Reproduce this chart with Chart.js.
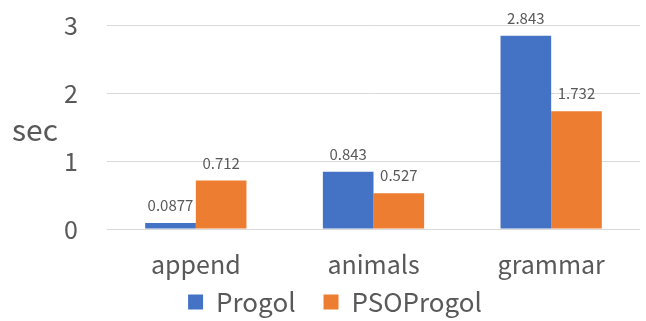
<!DOCTYPE html>
<html><head><meta charset="utf-8">
<script src="https://cdn.jsdelivr.net/npm/chart.js@4/dist/chart.umd.min.js"></script>
<style>html,body{margin:0;padding:0;background:#fff}#wrap{width:646px;height:321px}</style>
</head><body><div id="wrap"><canvas id="c" width="646" height="321"></canvas></div>
<script>
const categories = ['append', 'animals', 'grammar'];
const progol = [0.0877, 0.843, 2.843];
const psoProgol = [0.712, 0.527, 1.732];
const progolLabels = ['0.0877', '0.843', '2.843'];
const psoLabels = ['0.712', '0.527', '1.732'];
const yTicks = [0, 1, 2, 3];

const FONT = '"Noto Sans CJK JP", "Noto Sans", sans-serif';
const GRAY = '#595959';

const labelPlugin = {
  id: 'valueLabels',
  afterDatasetsDraw(chart) {
    const ctx = chart.ctx;
    ctx.save();
    ctx.font = '15px ' + FONT;
    ctx.fillStyle = GRAY;
    ctx.textAlign = 'center';
    ctx.textBaseline = 'bottom';
    chart.data.datasets.forEach((ds, di) => {
      const meta = chart.getDatasetMeta(di);
      meta.data.forEach((el, i) => {
        ctx.fillText(ds.valueLabels[i], el.x, el.y - 10);
      });
    });
    ctx.restore();
  },
  afterDraw(chart) {
    const ctx = chart.ctx;
    ctx.save();
    ctx.font = '30px ' + FONT;
    ctx.fillStyle = GRAY;
    ctx.textAlign = 'left';
    ctx.textBaseline = 'middle';
    ctx.fillText('sec', 12, 130);
    ctx.restore();
  }
};

new Chart(document.getElementById('c'), {
  type: 'bar',
  data: {
    labels: categories,
    datasets: [
      { label: 'Progol', data: progol, valueLabels: progolLabels, backgroundColor: '#4472C4', borderWidth: 0 },
      { label: 'PSOProgol', data: psoProgol, valueLabels: psoLabels, backgroundColor: '#ED7D31', borderWidth: 0 }
    ]
  },
  options: {
    responsive: false,
    animation: false,
    devicePixelRatio: 1,
    layout: { padding: { top: 25, right: 6, left: 30, bottom: 0 } },
    datasets: { bar: { barPercentage: 1, categoryPercentage: 0.57 } },
    plugins: {
      legend: {
        position: 'bottom',
        maxHeight: 60,
        labels: { boxWidth: 15, boxHeight: 15, padding: 28, color: GRAY, font: { family: FONT, size: 26 } }
      },
      tooltip: { enabled: false }
    },
    scales: {
      x: {
        afterFit(s) { s.height = 32; s._computeLabelArea = function () { return undefined; }; },
        grid: { display: false },
        border: { display: false },
        ticks: { color: GRAY, font: { family: FONT, size: 25 }, padding: 12 }
      },
      y: {
        min: 0, max: 3,
        afterFit(s) { s.width = 77; s.paddingTop = 0; s.paddingBottom = 0; s._computeLabelArea = function () { return undefined; }; },
        afterBuildTicks(s) { s.ticks = yTicks.map(v => ({ value: v })); },
        grid: { color: '#d9d9d9', drawTicks: false },
        border: { display: false },
        ticks: { color: GRAY, font: { family: FONT, size: 25 }, padding: 29 }
      }
    }
  },
  plugins: [labelPlugin]
});
</script>
</body></html>
